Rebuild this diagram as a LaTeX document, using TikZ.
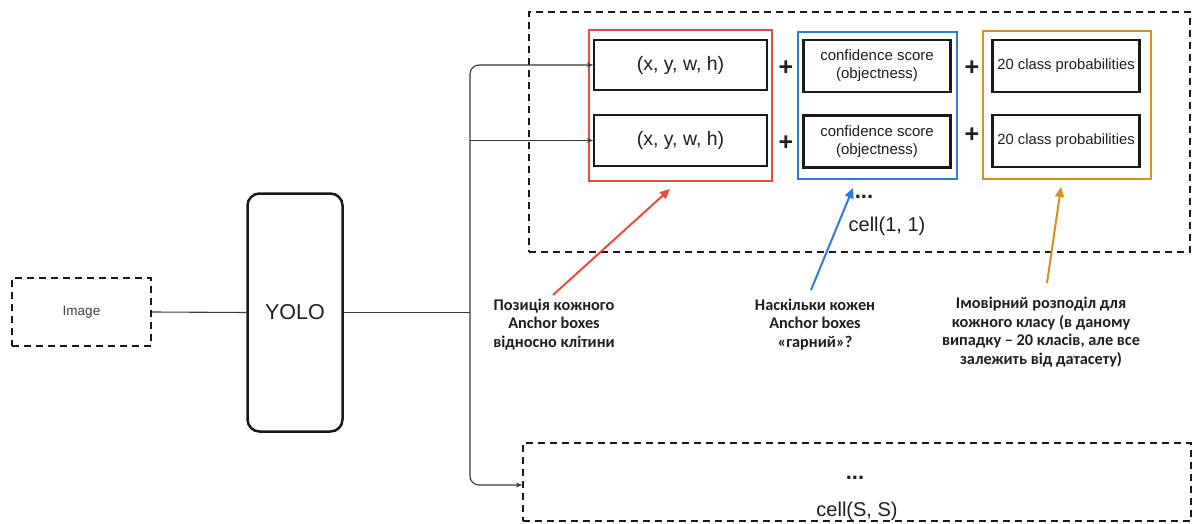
\documentclass[tikz,border=0pt]{standalone}
\usepackage{fontspec}
\setmainfont{Liberation Sans}
\newfontfamily\annfont{Carlito}
\usetikzlibrary{arrows.meta}
\definecolor{cred}{HTML}{E94B3C}
\definecolor{cblue}{HTML}{2B7BE0}
\definecolor{corange}{HTML}{D6901E}
\definecolor{ctext}{HTML}{1E1E1E}
\definecolor{cconn}{HTML}{3A3A3A}
\begin{document}
\begin{tikzpicture}[x=1pt,y=-1pt,
  dbox/.style={draw=black!90, line width=2pt, dash pattern=on 7pt off 5pt, inner sep=0pt},
  ibox/.style={draw=black!90, line width=2.2pt, inner sep=0pt, text=ctext, align=center},
  cbox/.style={draw=#1, line width=2pt, inner sep=0pt},
  conn/.style={draw=cconn, line width=1.1pt},
  tipc/.style={-{Stealth[length=6pt,width=5pt]}},
  carrow/.style={draw=#1, line width=2pt, -{Triangle[length=10pt,width=9pt]}, fill=#1},
  ann/.style={font={\annfont\bfseries\fontsize{16.3}{18.5}\selectfont}, align=center, text=ctext, inner sep=0pt},
  plus/.style={font={\bfseries\fontsize{25}{25}\selectfont}, text=ctext, inner sep=0pt},
  lbl/.style={font={\fontsize{20}{22}\selectfont}, text=ctext, inner sep=0pt},
  dots/.style={font={\bfseries\fontsize{22}{22}\selectfont}, text=ctext, inner sep=0pt}
]
\useasboundingbox (0,0) rectangle (1198,524);
\fill[white] (0,0) rectangle (1198,524);

% left part
\node[dbox, minimum width=139pt, minimum height=68pt, text=black!75, font={\fontsize{13.5}{16}\selectfont}] (img) at (81.5,312) {Image};
\node[draw=black!90, line width=2.5pt, rounded corners=12pt, minimum width=95pt, minimum height=238pt, text=ctext, font={\fontsize{21.5}{24}\selectfont}] (yolo) at (295,312.5) {YOLO};

% cell containers
\node[dbox, minimum width=661pt, minimum height=240pt] (cell11) at (859.5,132) {};
\node[dbox, minimum width=668pt, minimum height=78pt] (cellSS) at (857,482) {};

% coloured groups
\node[cbox=cred, minimum width=183pt, minimum height=151pt] (redbox) at (680.5,105.5) {};
\node[cbox=cblue, minimum width=159pt, minimum height=147pt] (bluebox) at (877.5,105.5) {};
\node[cbox=corange, minimum width=168pt, minimum height=148pt] (orbox) at (1067,105) {};

% inner boxes
\node[ibox, minimum width=173pt, minimum height=50pt, font={\fontsize{19.5}{20}\selectfont}] (xy1) at (680.5,65) {(x, y, w, h)};
\node[ibox, minimum width=173pt, minimum height=51pt, font={\fontsize{19.5}{20}\selectfont}] (xy2) at (680.5,140.5) {(x, y, w, h)};
\node[ibox, minimum width=147pt, minimum height=52pt, font={\fontsize{15}{18}\selectfont}] (conf1) at (877,66) {confidence score\\(objectness)};
\node[ibox, minimum width=147pt, minimum height=52pt, font={\fontsize{15}{18}\selectfont}] (conf2) at (877,141.5) {confidence score\\(objectness)};
\node[ibox, minimum width=147pt, minimum height=52pt, font={\fontsize{14.8}{18}\selectfont}] (cls1) at (1066,66) {20 class probabilities};
\node[ibox, minimum width=147pt, minimum height=52pt, font={\fontsize{14.8}{18}\selectfont}] (cls2) at (1066,141) {20 class probabilities};

% plus signs
\node[plus] (p1) at (786,68) {+};
\node[plus] (p2) at (786,143) {+};
\node[plus] (p3) at (972,68) {+};
\node[plus] (p4) at (972,135) {+};

% labels in cells
\node[dots] (dots1) at (864,197) {...};
\node[lbl] (c11) at (887,226) {cell(1, 1)};
\node[dots] (dots2) at (855,478) {...};
\node[lbl] (cSS) at (857,511) {cell(S, S)};

% connectors
\coordinate (split) at (470,312.5);
\draw[conn] (img.east) -- (yolo.west);
\draw[conn] (yolo.east) -- (split);
\draw[conn, tipc, rounded corners=9pt] (split) |- (xy1.west);
\draw[conn, tipc] (split |- xy2.west) -- (xy2.west);
\draw[conn, tipc, rounded corners=9pt] (split) |- ([yshift=-3pt]cellSS.west);

% annotations
\node[ann] (pos) at (554,324.5) {Позиція кожного\\Anchor boxes\\відносно клітини};
\node[ann] (how) at (815,324.5) {Наскільки кожен\\Anchor boxes\\«гарний»?};
\node[ann] (prob) at (1041,332) {Імовірний розподіл для\\кожного класу (в даному\\випадку – 20 класів, але все\\залежить від датасету)};

\coordinate (rtail) at (553,295);
\coordinate (rtip) at (670,189);
\coordinate (btail) at (811,290);
\coordinate (btip) at (853,188);
\coordinate (otail) at (1047,283);
\coordinate (otip) at (1061,187);
\draw[carrow=cred] (rtail) -- (rtip);
\draw[carrow=cblue] (btail) -- (btip);
\draw[carrow=corange] (otail) -- (otip);
\end{tikzpicture}
\end{document}
